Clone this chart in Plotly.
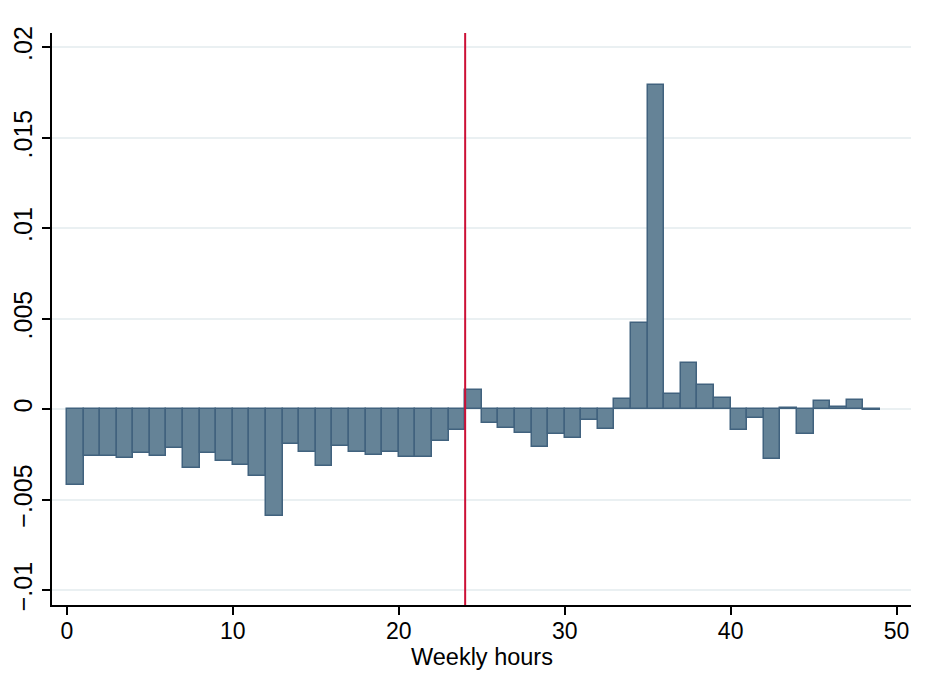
import plotly.graph_objects as go

# Data
hours = list(range(49))  # bar i spans [i, i+1)
values = [
    -0.00416, -0.00259, -0.00259, -0.00267, -0.00239, -0.00256, -0.00215, -0.00326,
    -0.00241, -0.00285, -0.00310, -0.00371, -0.00590, -0.00192, -0.00235, -0.00312,
    -0.00201, -0.00237, -0.00250, -0.00233, -0.00265, -0.00265, -0.00175, -0.00114,
    0.00105, -0.00076, -0.00103, -0.00131, -0.00208, -0.00137, -0.00159, -0.00059,
    -0.00111, 0.00055, 0.00476, 0.01792, 0.00082, 0.00254, 0.00132, 0.00065,
    -0.00114, -0.00046, -0.00275, 0.00005, -0.00138, 0.00044, 0.00011, 0.00050,
    -0.00006,
]
cutoff = 24
y_tickvals = [-0.01, -0.005, 0, 0.005, 0.01, 0.015, 0.02]
y_ticktext = ["\u2212.01", "\u2212.005", "0", ".005", ".01", ".015", ".02"]
x_tickvals = [0, 10, 20, 30, 40, 50]
x_title = "Weekly hours"

fig = go.Figure()
fig.add_trace(go.Bar(
    x=[h + 0.5 for h in hours],
    y=values,
    width=1,
    marker=dict(color="#658397", line=dict(color="#41627E", width=1.5)),
    showlegend=False,
))
fig.add_vline(x=cutoff, line=dict(color="#CC1036", width=2))

font = "Liberation Sans, Arial, Helvetica, sans-serif"
fig.update_layout(
    width=926, height=675,
    margin=dict(l=52, r=15, t=33, b=70),
    paper_bgcolor="white", plot_bgcolor="white",
    font=dict(family=font, size=23, color="black"),
    bargap=0,
    xaxis=dict(
        range=[-0.9, 50.87],
        tickvals=x_tickvals,
        ticks="outside", ticklen=8, tickwidth=1.5, tickcolor="black",
        showline=True, linecolor="black", linewidth=1.5,
        showgrid=False, zeroline=False, automargin=False,
        ticklabelstandoff=-3,
        tickfont=dict(size=23),
    ),
    yaxis=dict(
        range=[-0.01081, 0.02079],
        tickvals=y_tickvals, ticktext=y_ticktext,
        tickangle=-90,
        ticks="outside", ticklen=8, tickwidth=1.5, tickcolor="black",
        showline=True, linecolor="black", linewidth=1.5,
        showgrid=True, gridcolor="#EAF0F2", gridwidth=2,
        zeroline=False, automargin=False,
        tickfont=dict(size=25),
    ),
)
# x-axis title placed below the tick labels
fig.add_annotation(
    text=x_title, xref="paper", yref="paper", x=0.5, y=0,
    xanchor="center", yanchor="middle", yshift=-52,
    showarrow=False, font=dict(size=23.5, family=font, color="black"),
)

# remove the default 8px page margin so the figure fills the window
fig.write_html(
    "out.html",
    config={"displayModeBar": False},
    post_script="document.body.style.margin='0px';document.body.style.overflow='hidden';",
)
